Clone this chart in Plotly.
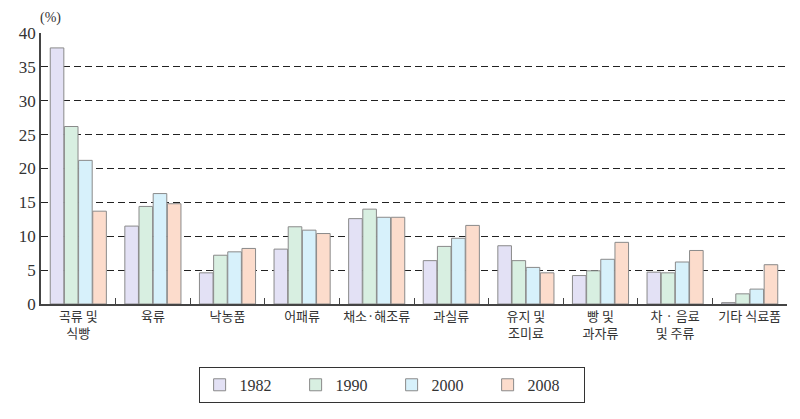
import plotly.graph_objects as go

categories = ["곡류 및<br>식빵", "육류", "낙농품", "어패류", "채소·해조류",
              "과실류", "유지 및<br>조미료", "빵 및<br>과자류", "차 · 음료<br>및 주류", "기타 식료품"]
years = ["1982", "1990", "2000", "2008"]

v1982 = [37.8, 11.5, 4.6, 8.1, 12.6, 6.4, 8.6, 4.2, 4.7, 0.2]
v1990 = [26.2, 14.4, 7.2, 11.4, 14.0, 8.5, 6.4, 4.9, 4.6, 1.5]
v2000 = [21.2, 16.3, 7.7, 10.9, 12.8, 9.7, 5.4, 6.6, 6.2, 2.2]
v2008 = [13.7, 14.8, 8.2, 10.4, 12.8, 11.6, 4.6, 9.1, 7.9, 5.8]

colors = ["#e3e1f5", "#d8efe1", "#d7f1fb", "#fcdccc"]
series = [v1982, v1990, v2000, v2008]

SERIF = "Liberation Serif"
KR = "Noto Sans CJK KR"

fig = go.Figure()
for name, vals, col in zip(years, series, colors):
    fig.add_trace(go.Bar(
        x=categories, y=vals, name=name,
        marker=dict(color=col, line=dict(color="#8a8a8a", width=1)),
    ))

# page body adds an 8px margin, so the figure is sized to fit the window
fig.update_layout(
    width=792, height=411,
    margin=dict(l=33, r=13, t=25, b=115),
    plot_bgcolor="white", paper_bgcolor="white",
    font=dict(family=SERIF, size=15, color="#333"),
    barmode="group", bargap=0.24, bargroupgap=0.04,
    showlegend=True,
    legend=dict(
        orientation="h", x=0.47, xanchor="center", y=-0.232, yanchor="top",
        bordercolor="#333", borderwidth=1, entrywidth=51,
        font=dict(family=SERIF, size=16, color="#333"),
        itemwidth=30,
    ),
)
fig.update_xaxes(
    automargin=False, tickangle=0,
    showline=True, linecolor="#444", linewidth=1.5,
    ticks="inside", tickson="boundaries", ticklen=6, tickcolor="#444",
    tickfont=dict(family=KR, size=13, color="#333"),
    showgrid=False,
)
fig.update_yaxes(
    automargin=False,
    range=[0, 40], dtick=5,
    showline=True, linecolor="#444", linewidth=1.5,
    showgrid=True, gridcolor="#222", gridwidth=1.2, griddash="7px,4px",
    zeroline=False, ticks="",
    tickfont=dict(family=SERIF, size=17, color="#333"),
)
fig.add_annotation(
    text="(%)", xref="paper", yref="paper", x=0.013, y=1.02,
    xanchor="center", yanchor="bottom", showarrow=False,
    font=dict(family=SERIF, size=14, color="#333"),
)

fig.write_html("out.html")
